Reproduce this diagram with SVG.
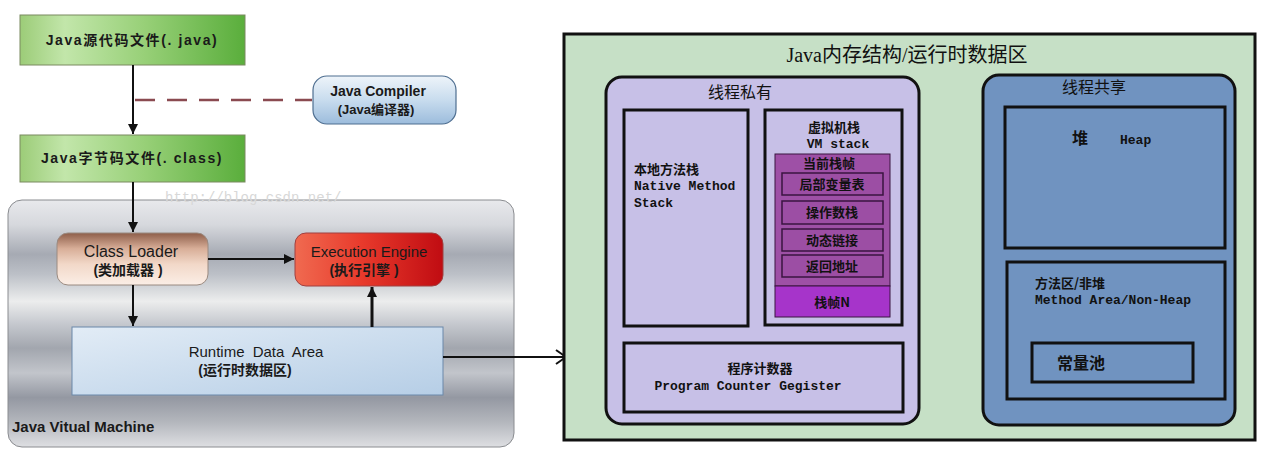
<svg xmlns="http://www.w3.org/2000/svg" width="1268" height="462" viewBox="0 0 1268 462">
<defs>
<linearGradient id="gGreen" x1="0" y1="0" x2="1" y2="0">
<stop offset="0" stop-color="#9ccc78"/><stop offset="0.2" stop-color="#c2e6aa"/><stop offset="0.55" stop-color="#98d078"/><stop offset="1" stop-color="#5aae3c"/>
</linearGradient>
<linearGradient id="gComp" x1="0" y1="0" x2="0" y2="1">
<stop offset="0" stop-color="#eef4fa"/><stop offset="0.5" stop-color="#c8dcee"/><stop offset="1" stop-color="#9cbcdc"/>
</linearGradient>
<linearGradient id="gJvm" x1="0" y1="0" x2="0" y2="1">
<stop offset="0" stop-color="#e8e9ec"/><stop offset="0.1" stop-color="#d6d8dd"/><stop offset="0.22" stop-color="#a6aab3"/><stop offset="0.3" stop-color="#bcc0c7"/><stop offset="0.41" stop-color="#eceded"/><stop offset="0.5" stop-color="#c6c9cf"/><stop offset="0.6" stop-color="#a2a6ae"/><stop offset="0.7" stop-color="#c2c5cb"/><stop offset="0.8" stop-color="#9498a2"/><stop offset="0.9" stop-color="#b4b7bd"/><stop offset="1" stop-color="#dedfe2"/>
</linearGradient>
<linearGradient id="gCL" x1="0" y1="0" x2="0" y2="1">
<stop offset="0" stop-color="#8e5e4a"/><stop offset="0.3" stop-color="#d8ae98"/><stop offset="0.6" stop-color="#f2d8c8"/><stop offset="1" stop-color="#fbeee6"/>
</linearGradient>
<linearGradient id="gEE" x1="0" y1="0" x2="1" y2="0">
<stop offset="0" stop-color="#f06a50"/><stop offset="0.45" stop-color="#e83a2c"/><stop offset="1" stop-color="#c00c12"/>
</linearGradient>
<linearGradient id="gRDA" x1="0" y1="0" x2="1" y2="1">
<stop offset="0" stop-color="#e2ecf6"/><stop offset="1" stop-color="#b6cee6"/>
</linearGradient>
<marker id="arr" viewBox="0 0 10 10" refX="10" refY="5" markerWidth="10" markerHeight="10" markerUnits="userSpaceOnUse" orient="auto">
<path d="M0,0 L10,5 L0,10 z" fill="#111"/>
</marker>
<marker id="open" viewBox="0 0 12 16" refX="11" refY="8" markerWidth="12" markerHeight="16" markerUnits="userSpaceOnUse" orient="auto">
<path d="M1,1 L11,8 L1,15" fill="none" stroke="#111" stroke-width="2"/>
</marker>
</defs>
<style>
.ls{font-family:"Liberation Sans","Noto Sans CJK SC",sans-serif;fill:#1a1a1a}
.b{font-weight:bold}
.cj{font-family:"Noto Sans CJK SC",sans-serif;fill:#111}
.mono{font-family:"Liberation Mono","Noto Sans CJK SC",monospace;font-weight:bold;font-size:13px;fill:#111}
.box{stroke:#111;stroke-width:3}
.ib{fill:#9c4ea4;stroke:#3a1440;stroke-width:1.5}
.ln{stroke:#111;stroke-width:2;fill:none}
</style>
<rect width="1268" height="462" fill="#ffffff"/>

<g id="jvm">
<rect x="8" y="200" width="506" height="247" rx="14" fill="url(#gJvm)" stroke="#8a8c90" stroke-width="1"/>
<text x="12" y="432" class="ls b" font-size="15">Java Vitual Machine</text>
</g>
<text x="165" y="202" font-family="Liberation Mono, monospace" font-size="14" fill="#d8d8d8">http://blog.csdn.net/</text>

<g id="src">
<rect x="20" y="15" width="225" height="50" fill="url(#gGreen)" stroke="#7a8a60" stroke-width="1"/>
<text x="132" y="45" class="ls b" font-size="14" text-anchor="middle" letter-spacing="1.6">Java源代码文件(. java)</text>
</g>
<g id="cls">
<rect x="20" y="135" width="225" height="47" fill="url(#gGreen)" stroke="#7a8a60" stroke-width="1"/>
<text x="132" y="163" class="ls b" font-size="14" text-anchor="middle" letter-spacing="1.6">Java字节码文件(. class)</text>
</g>
<g id="compiler">
<rect x="313" y="76" width="143" height="48" rx="14" fill="url(#gComp)" stroke="#4e6e90" stroke-width="1.2"/>
<text x="378" y="96" class="ls b" font-size="14" text-anchor="middle" fill="#1e2a40">Java Compiler</text>
<text x="376" y="114" class="ls b" font-size="13" text-anchor="middle" fill="#1e2a40">(Java编译器)</text>
</g>
<g id="classloader">
<rect x="57" y="233" width="151" height="52" rx="11" fill="url(#gCL)" stroke="#9a8a80" stroke-width="1"/>
<text x="131" y="257" class="ls" font-size="16" text-anchor="middle" fill="#2a1c16">Class Loader</text>
<text x="128" y="275" class="ls b" font-size="14" text-anchor="middle" fill="#2a1a14">(类加载器 )</text>
</g>
<g id="engine">
<rect x="295" y="233" width="148" height="53" rx="11" fill="url(#gEE)" stroke="#a04040" stroke-width="1"/>
<text x="369" y="257" class="ls" font-size="15" text-anchor="middle" fill="#4a0808">Execution Engine</text>
<text x="364" y="275" class="ls b" font-size="14" text-anchor="middle" fill="#4a0808">(执行引擎 )</text>
</g>
<g id="rda">
<rect x="72" y="327" width="371" height="68" fill="url(#gRDA)" stroke="#6a88aa" stroke-width="1"/>
<text x="256" y="357" class="ls" font-size="15" text-anchor="middle" fill="#1a2030" word-spacing="4">Runtime Data Area</text>
<text x="245" y="375" class="ls b" font-size="14" text-anchor="middle" fill="#1a2030">(运行时数据区)</text>
</g>

<g id="connectors">
<line x1="133" y1="65" x2="133" y2="134" class="ln" marker-end="url(#arr)"/>
<line x1="135" y1="100" x2="312" y2="100" stroke="#8a4a50" stroke-width="2.5" stroke-dasharray="20,12"/>
<line x1="133" y1="182" x2="133" y2="232" class="ln" marker-end="url(#arr)"/>
<line x1="208" y1="259" x2="294" y2="259" class="ln" marker-end="url(#arr)"/>
<line x1="133" y1="285" x2="133" y2="326" class="ln" marker-end="url(#arr)"/>
<line x1="372" y1="327" x2="372" y2="287" stroke="#111" stroke-width="3" marker-end="url(#arr)"/>
<line x1="443" y1="357" x2="566" y2="357" class="ln" marker-end="url(#open)"/>
</g>

<g id="memory">
<rect x="564" y="34" width="691" height="406" fill="#c6e0c6" class="box"/>
<text x="907" y="62" font-family="Liberation Serif,'Noto Sans CJK SC',serif" font-size="20" text-anchor="middle" fill="#111">Java内存结构/运行时数据区</text>
</g>

<g id="private">
<rect x="606" y="77" width="313" height="347" rx="16" fill="#c7c0e7" class="box"/>
<text x="740" y="98" class="cj" font-size="16" text-anchor="middle">线程私有</text>
</g>
<g id="native">
<rect x="624" y="110" width="124" height="216" fill="#c7c0e7" class="box"/>
<text x="634" y="174" class="cj b" font-size="13">本地方法栈</text>
<text x="634" y="190" class="mono">Native Method</text>
<text x="634" y="207" class="mono">Stack</text>
</g>
<g id="vmstack">
<rect x="765" y="110" width="137" height="215" fill="#c7c0e7" class="box"/>
<text x="834" y="132" class="cj b" font-size="13" text-anchor="middle">虚拟机栈</text>
<text x="838" y="148" class="mono" text-anchor="middle">VM stack</text>
</g>
<g id="frame">
<rect x="775" y="154" width="115" height="132" fill="#9e50a6" stroke="#3a1440" stroke-width="1"/>
<text x="829" y="168" class="cj b" font-size="13" text-anchor="middle">当前栈帧</text>
</g>
<g id="locals"><rect x="782" y="173" width="101" height="22" class="ib"/><text x="832" y="189" class="cj b" font-size="13" text-anchor="middle">局部变量表</text></g>
<g id="opstack"><rect x="782" y="201" width="101" height="23" class="ib"/><text x="832" y="217" class="cj b" font-size="13" text-anchor="middle">操作数栈</text></g>
<g id="dynlink"><rect x="782" y="229" width="101" height="22" class="ib"/><text x="832" y="245" class="cj b" font-size="13" text-anchor="middle">动态链接</text></g>
<g id="retaddr"><rect x="782" y="255" width="101" height="22" class="ib"/><text x="832" y="271" class="cj b" font-size="13" text-anchor="middle">返回地址</text></g>
<g id="frameN">
<rect x="775" y="286" width="115" height="31" fill="#a634ca" stroke="#3a1440" stroke-width="1"/>
<text x="832" y="307" class="cj b" font-size="13" text-anchor="middle">栈帧N</text>
</g>
<g id="pc">
<rect x="624" y="343" width="279" height="69" fill="#c7c0e7" class="box"/>
<text x="760" y="373" class="cj b" font-size="13" text-anchor="middle">程序计数器</text>
<text x="748" y="390" class="mono" text-anchor="middle">Program Counter Gegister</text>
</g>

<g id="shared">
<rect x="983" y="75" width="252" height="350" rx="16" fill="#7093c0" class="box"/>
<text x="1094" y="93" class="cj" font-size="16" text-anchor="middle">线程共享</text>
</g>
<g id="heap">
<rect x="1005" y="107" width="220" height="141" fill="#7093c0" class="box"/>
<text x="1080" y="144" class="cj b" font-size="16" text-anchor="middle">堆</text>
<text x="1120" y="144" class="mono" font-size="12">Heap</text>
</g>
<g id="method">
<rect x="1007" y="262" width="218" height="137" fill="#7093c0" class="box"/>
<text x="1035" y="288" class="cj b" font-size="13">方法区/非堆</text>
<text x="1035" y="304" class="mono">Method Area/Non-Heap</text>
</g>
<g id="pool">
<rect x="1032" y="343" width="161" height="39" fill="#7093c0" class="box"/>
<text x="1057" y="369" class="cj b" font-size="16">常量池</text>
</g>
</svg>
